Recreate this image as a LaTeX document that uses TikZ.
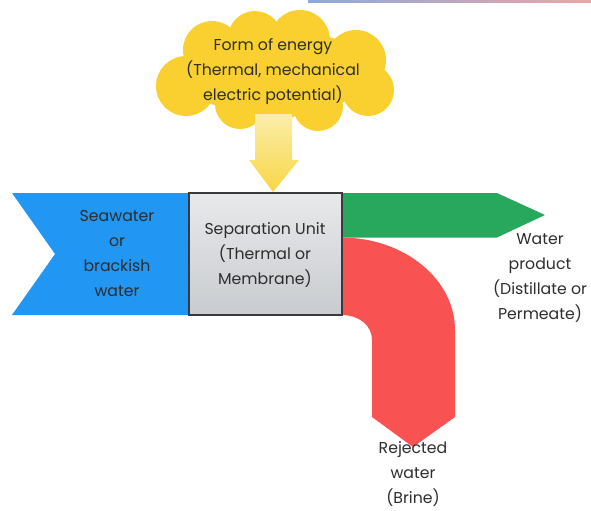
\documentclass[tikz,border=0pt]{standalone}
\usepackage{fontspec}
\setmainfont{Poppins}
\usetikzlibrary{calc}
\definecolor{seablue}{RGB}{33,150,243}
\definecolor{prodgreen}{RGB}{40,168,92}
\definecolor{brinered}{RGB}{248,82,82}
\definecolor{cloudyellow}{RGB}{250,208,48}
\definecolor{inkgray}{RGB}{45,45,45}
\definecolor{boxedge}{RGB}{58,58,58}
\tikzset{
  label text/.style={align=center, text=inkgray, font=\fontsize{11.8}{18.75}\selectfont, inner sep=0pt},
  puff/.style={fill=cloudyellow, draw=none},
}
\begin{document}
\begin{tikzpicture}[x=0.75pt, y=-0.75pt]
\useasboundingbox (0,0) rectangle (591,510);

% thin rule along the top edge
\shade[left color={rgb,255:red,140;green,170;blue,220}, right color={rgb,255:red,235;green,165;blue,165}]
  (308,0) rectangle (591,2.5);

% energy cloud built from overlapping puffs
\fill[puff] (275,72) ellipse [x radius=98, y radius=42];
\fill[puff] (186,86) circle [radius=30];
\fill[puff] (212,50) circle [radius=29];
\fill[puff] (255,38) circle [radius=27];
\fill[puff] (300,40) circle [radius=30];
\fill[puff] (356,60) circle [radius=30];
\fill[puff] (368,90) circle [radius=26];
\fill[puff] (318,106) circle [radius=25];
\fill[puff] (240,104) circle [radius=25];
\fill[puff] (275,112) ellipse [x radius=22, y radius=9];

% energy input arrow
\shade[top color={rgb,255:red,250;green,238;blue,170}, bottom color={rgb,255:red,248;green,214;blue,70}]
  (255,114) -- (292,114) -- (292,160) -- (299,160) -- (273,192)
  -- (249,160) -- (255,160) -- cycle;

% feed water stream
\fill[seablue] (12,193) -- (189,193) -- (189,315) -- (12,315) -- (55,254) -- cycle;

% product water stream
\fill[prodgreen] (341,193) -- (497,193) -- (545,215) -- (497,237.5) -- (341,237.5) -- cycle;

% brine stream bending downwards
\fill[brinered] (341,237.5) .. controls (404,237.5) and (455,279) .. (455,330)
  -- (455,417) -- (413,447) -- (372,417) -- (372,340)
  .. controls (372,326) and (360,315) .. (341,315) -- cycle;

% separation unit
\shade[draw=boxedge, line width=1.2pt,
  top color={rgb,255:red,232;green,233;blue,235},
  bottom color={rgb,255:red,200;green,203;blue,207}]
  (189,193) rectangle (342,315);

% texts
\node[label text] (energy) at (273,72) {Form of energy\\(Thermal, mechanical\\electric potential)};
\node[label text] (feed) at (117,254) {Seawater\\or\\brackish\\water};
\node[label text] (unit) at (265,255) {Separation Unit\\(Thermal or\\Membrane)};
\node[label text] (product) at (540,278) {Water\\product\\(Distillate or\\Permeate)};
\node[label text] (brine) at (413,474) {Rejected\\water\\(Brine)};
\end{tikzpicture}
\end{document}
